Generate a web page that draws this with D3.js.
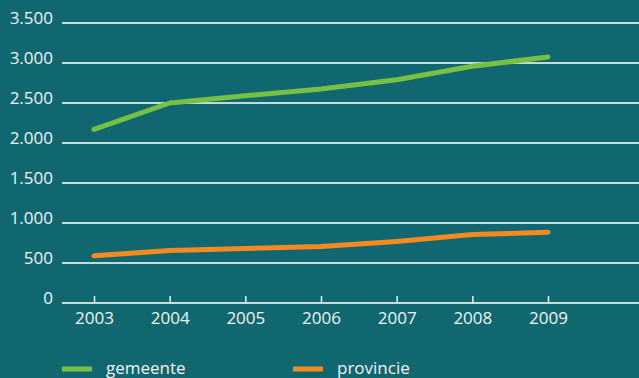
<!DOCTYPE html>
<html>
<head>
<meta charset="utf-8">
<script src="https://cdn.jsdelivr.net/npm/d3@7"></script>
<style>
  html, body { margin: 0; padding: 0; background: #10676f; }
  svg { display: block; }
  text { font-family: "Open Sans", "Noto Sans", sans-serif; fill: #f2f4f4; }
</style>
</head>
<body>
<svg id="chart" width="639" height="378"></svg>
<script>
// Years along the x axis
const years = [2003, 2004, 2005, 2006, 2007, 2008, 2009];
// Series values per year
const gemeente = [2170, 2500, 2590, 2675, 2790, 2960, 3075];
const provincie = [590, 655, 680, 705, 770, 855, 885];
// Y axis tick values
const yTicks = [0, 500, 1000, 1500, 2000, 2500, 3000, 3500];

const series = [
  { name: "gemeente", values: gemeente, color: "#76c143" },
  { name: "provincie", values: provincie, color: "#f58a1f" }
];

const width = 639, height = 378;
const plotLeft = 62, plotRight = 639;
const fontSize = 17;
const svg = d3.select("#chart");

const x = d3.scaleLinear().domain([2003, 2009]).range([94, 548]);
const y = d3.scaleLinear().domain([0, 3500]).range([303, 23]);

const fmt = d3.format(",d");
const nl = v => fmt(v).replace(/,/g, ".");

// Horizontal grid lines
svg.append("g")
  .selectAll("line")
  .data(yTicks.filter(d => d > 0))
  .join("line")
  .attr("x1", plotLeft).attr("x2", plotRight)
  .attr("y1", d => y(d)).attr("y2", d => y(d))
  .attr("stroke", "#ffffff").attr("stroke-width", 1.5);

// Y tick labels
svg.append("g")
  .selectAll("text")
  .data(yTicks)
  .join("text")
  .attr("x", 53)
  .attr("y", d => y(d) - 5)
  .attr("dy", "0.35em")
  .attr("text-anchor", "end")
  .attr("font-size", fontSize)
  .text(nl);

// X axis baseline with ticks
const xAxis = d3.axisBottom(x)
  .tickValues(years)
  .tickFormat(d3.format("d"))
  .tickSize(-7)
  .tickPadding(9);

const gx = svg.append("g")
  .attr("transform", `translate(0,${y(0)})`)
  .call(xAxis);
gx.select(".domain").remove();
gx.insert("line", ":first-child")
  .attr("x1", plotLeft).attr("x2", plotRight)
  .attr("y1", 0).attr("y2", 0)
  .attr("stroke", "#c9dcdc").attr("stroke-width", 2);
gx.selectAll(".tick line").attr("stroke", "#e6eeee").attr("stroke-width", 1.5);
gx.selectAll(".tick text")
  .attr("font-size", fontSize)
  .attr("fill", "#f2f4f4")
  .attr("font-family", "\"Open Sans\", \"Noto Sans\", sans-serif");

// Series lines
const line = d3.line()
  .x((d, i) => x(years[i]))
  .y(d => y(d));

svg.append("g")
  .selectAll("path")
  .data(series)
  .join("path")
  .attr("d", d => line(d.values))
  .attr("fill", "none")
  .attr("stroke", d => d.color)
  .attr("stroke-width", 5)
  .attr("stroke-linecap", "round")
  .attr("stroke-linejoin", "round");

// Legend
const legendX = [62, 293];
const legend = svg.append("g")
  .selectAll("g")
  .data(series)
  .join("g")
  .attr("transform", (d, i) => `translate(${legendX[i]},369)`);
legend.append("rect")
  .attr("x", 0).attr("y", -2.5)
  .attr("width", 30).attr("height", 5)
  .attr("fill", d => d.color);
legend.append("text")
  .attr("x", 44).attr("y", -1)
  .attr("dy", "0.35em")
  .attr("font-size", fontSize)
  .text(d => d.name);
</script>
</body>
</html>
